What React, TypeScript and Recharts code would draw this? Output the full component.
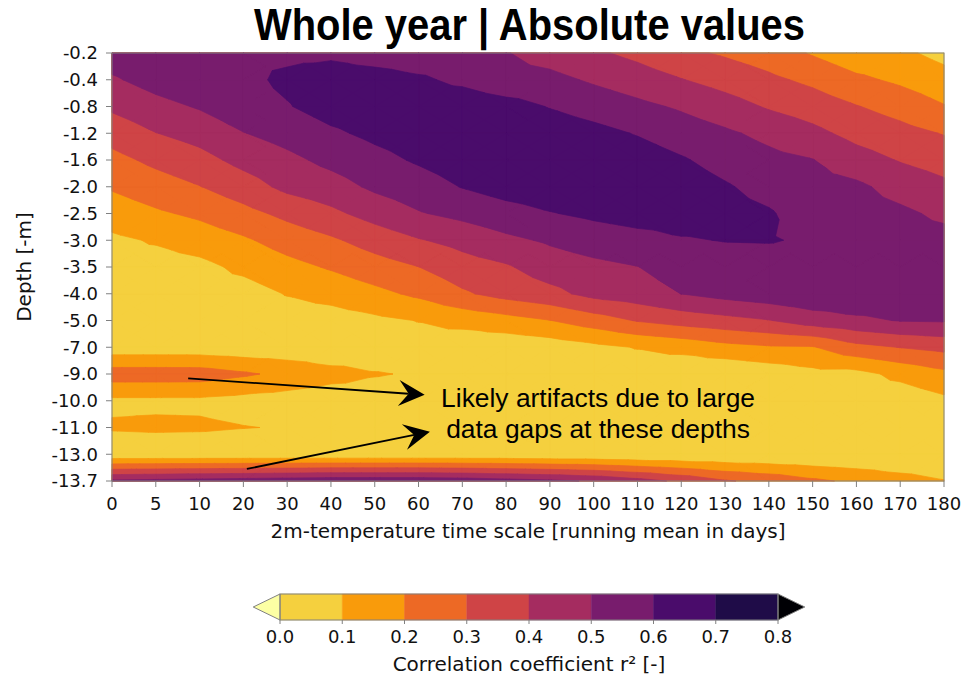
import React from 'react';
import { ComposedChart, XAxis, YAxis, ReferenceArea, Scatter } from 'recharts';

// ---------- categories / tick labels ----------
const TIME_SCALES = ['0', '5', '10', '20', '30', '40', '50', '60', '70', '80', '90', '100', '110', '120', '130', '140', '150', '160', '170', '180'];
const DEPTHS = ['-0.2', '-0.4', '-0.8', '-1.2', '-1.6', '-2.0', '-2.5', '-3.0', '-3.5', '-4.0', '-5.0', '-7.0', '-9.0', '-10.0', '-11.0', '-13.0', '-13.7'];

// ---------- r² values, one array per depth (one value per time scale) ----------
const R2_D02 = [0.555, 0.585, 0.59, 0.59, 0.578, 0.58, 0.55, 0.54, 0.55, 0.505, 0.459, 0.416, 0.374, 0.321, 0.288, 0.251, 0.191, 0.135, 0.12, 0.0705];
const R2_D04 = [0.487, 0.539, 0.58, 0.575, 0.62, 0.65, 0.645, 0.615, 0.579, 0.526, 0.527, 0.487, 0.449, 0.404, 0.362, 0.32, 0.278, 0.2205, 0.182, 0.1376];
const R2_D08 = [0.418, 0.468, 0.509, 0.564, 0.594, 0.641, 0.66, 0.65, 0.66, 0.64, 0.595, 0.558, 0.523, 0.4875, 0.442, 0.39, 0.352, 0.3045, 0.262, 0.206];
const R2_D12 = [0.34, 0.398, 0.437, 0.497, 0.537, 0.584, 0.622, 0.65, 0.68, 0.68, 0.66, 0.63, 0.594, 0.551, 0.516, 0.474, 0.426, 0.369, 0.3325, 0.295];
const R2_D16 = [0.27, 0.323, 0.367, 0.43, 0.476, 0.526, 0.57, 0.612, 0.65, 0.67, 0.68, 0.67, 0.65, 0.61, 0.564, 0.527, 0.503, 0.441, 0.394, 0.36];
const R2_D20 = [0.211, 0.254, 0.297, 0.354, 0.425, 0.459, 0.518, 0.554, 0.604, 0.641, 0.66, 0.67, 0.66, 0.65, 0.61, 0.566, 0.53, 0.52, 0.4625, 0.4215];
const R2_D25 = [0.146, 0.186, 0.219, 0.269, 0.325, 0.378, 0.438, 0.493, 0.527, 0.562, 0.595, 0.62, 0.64, 0.64, 0.63, 0.61, 0.55, 0.54, 0.52, 0.479];
const R2_D30 = [0.081, 0.109, 0.145, 0.186, 0.241, 0.285, 0.342, 0.393, 0.432, 0.479, 0.513, 0.546, 0.568, 0.593, 0.603, 0.605, 0.59, 0.56, 0.54, 0.535];
const R2_D35 = [0.07, 0.06, 0.073, 0.122, 0.169, 0.21, 0.257, 0.299, 0.357, 0.389, 0.45, 0.476, 0.498, 0.547, 0.559, 0.561, 0.57, 0.57, 0.56, 0.54];
const R2_D40 = [0.06, 0.055, 0.06, 0.058, 0.105, 0.133, 0.174, 0.219, 0.286, 0.335, 0.371, 0.43, 0.455, 0.501, 0.535, 0.56, 0.58, 0.58, 0.57, 0.54];
const R2_D50 = [0.05, 0.05, 0.05, 0.05, 0.05, 0.056, 0.079, 0.103, 0.131, 0.162, 0.198, 0.251, 0.307, 0.341, 0.368, 0.396, 0.45, 0.48, 0.505, 0.51];
const R2_D70 = [0.04, 0.04, 0.04, 0.03, 0.03, 0.033, 0.049, 0.06, 0.035, 0.03, 0.045, 0.075, 0.105, 0.13, 0.168, 0.189, 0.193, 0.27, 0.303, 0.329];
const R2_D90 = [0.252, 0.252, 0.25, 0.215, 0.175, 0.13, 0.105, 0.093, 0.06, 0.05, 0.05, 0.05, 0.04, 0.02, 0.01, 0.038, 0.071, 0.07, 0.125, 0.174];
const R2_D100 = [0.08, 0.08, 0.08, 0.065, 0.054, 0.049, 0.06, 0.06, 0.05, 0.05, 0.05, 0.05, 0.04, 0.03, 0.02, 0.03, 0.04, 0.05, 0.04, 0.079];
const R2_D110 = [0.112, 0.118, 0.115, 0.103, 0.095, 0.07, 0.07, 0.07, 0.06, 0.05, 0.05, 0.05, 0.04, 0.03, 0.02, 0.02, 0.02, 0.03, 0.03, 0.05];
const R2_D130 = [0.02, 0.02, 0.02, 0.02, 0.02, 0.02, 0.02, 0.02, 0.02, 0.02, 0.015, 0.015, 0.005, 0.005, 0.005, 0.005, 0.005, 0.005, 0.005, 0.005];
const R2_D137 = [0.52, 0.53, 0.54, 0.55, 0.56, 0.57, 0.57, 0.57, 0.56, 0.54, 0.52, 0.49, 0.44, 0.38, 0.31, 0.27, 0.22, 0.18, 0.14, 0.105];

const R2_GRID = [R2_D02, R2_D04, R2_D08, R2_D12, R2_D16, R2_D20, R2_D25, R2_D30, R2_D35, R2_D40, R2_D50, R2_D70, R2_D90, R2_D100, R2_D110, R2_D130, R2_D137];

// ---------- colour levels ----------
const LEVELS = [0, 0.1, 0.2, 0.3, 0.4, 0.5, 0.6, 0.7, 0.8];
const BAND_COLORS = ['#f5d03e', '#f99b0b', '#ed6925', '#cf4446', '#a52c60', '#781c6d', '#4a0c6b', '#1f0c48'];
const UNDER_COLOR = '#fcffa4';
const OVER_COLOR = '#000004';

// ---------- texts ----------
const TITLE = 'Whole year | Absolute values';
const X_LABEL = '2m-temperature time scale [running mean in days]';
const Y_LABEL = 'Depth [-m]';
const CB_LABEL = 'Correlation coefficient r\u00b2 [-]';
const NOTE_LINES = ['Likely artifacts due to large', 'data gaps at these depths'];
// annotation anchors in (time-scale index, depth index) coordinates
const NOTE_POS = [{ x: 11.1, y: 13.25 }, { x: 11.1, y: 14.41 }];
const ARROWS = [
  { from: [1.74, 12.16], to: [7.14, 12.78] },
  { from: [3.08, 15.55], to: [7.26, 14.16] },
];

const FONT = "'DejaVu Sans', sans-serif";
const SANS = "'Liberation Sans', Arial, sans-serif";
const GRAY = '#808080';
const EXT = 0.043;

const X_MAX = TIME_SCALES.length - 1;
const Y_MAX = DEPTHS.length - 1;
const X_TICKS = TIME_SCALES.map((_, i) => i);
const Y_TICKS = DEPTHS.map((_, i) => i);
const NODES = R2_GRID.flatMap((row, j) => row.map((v, i) => ({ x: i, y: j, r2: v })));
const CB_NODES = BAND_COLORS.map((c, k) => ({ x: (LEVELS[k] + LEVELS[k + 1]) / 2, y: 0.5, color: c }));

type P = { x: number; y: number; v: number };

function clipTri(tri: P[], L: number): P[] {
  const out: P[] = [];
  for (let k = 0; k < 3; k++) {
    const a = tri[k];
    const b = tri[(k + 1) % 3];
    const ina = a.v >= L;
    const inb = b.v >= L;
    if (ina) out.push(a);
    if (ina !== inb) {
      const t = (L - a.v) / (b.v - a.v);
      out.push({ x: a.x + t * (b.x - a.x), y: a.y + t * (b.y - a.y), v: L });
    }
  }
  return out;
}

function Arrow({ x1, y1, x2, y2 }: { x1: number; y1: number; x2: number; y2: number }) {
  const dx = x2 - x1;
  const dy = y2 - y1;
  const len = Math.hypot(dx, dy);
  const ux = dx / len;
  const uy = dy / len;
  const nx = -uy;
  const ny = ux;
  const HL = 26;
  const HW = 13;
  const NOTCH = 16;
  const bx = x2 - HL * ux;
  const by = y2 - HL * uy;
  const qx = x2 - NOTCH * ux;
  const qy = y2 - NOTCH * uy;
  const pts = [
    [x2, y2],
    [bx + HW * nx, by + HW * ny],
    [qx, qy],
    [bx - HW * nx, by - HW * ny],
  ]
    .map((p) => `${p[0].toFixed(2)},${p[1].toFixed(2)}`)
    .join(' ');
  return (
    <g>
      <line x1={x1} y1={y1} x2={qx} y2={qy} stroke="#000" strokeWidth={1.8} />
      <polygon points={pts} fill="#000" />
    </g>
  );
}

function ContourLayer(props: any) {
  const { x, y, width, height } = props;
  const px = (i: number) => x + (i / X_MAX) * width;
  const py = (j: number) => y + (j / Y_MAX) * height;

  const tris: P[][] = [];
  for (let j = 0; j < Y_MAX; j++) {
    for (let i = 0; i < X_MAX; i++) {
      const a = { x: i, y: j, v: R2_GRID[j][i] };
      const b = { x: i + 1, y: j, v: R2_GRID[j][i + 1] };
      const c = { x: i + 1, y: j + 1, v: R2_GRID[j + 1][i + 1] };
      const d = { x: i, y: j + 1, v: R2_GRID[j + 1][i] };
      const m = { x: i + 0.5, y: j + 0.5, v: (a.v + b.v + c.v + d.v) / 4 };
      tris.push([a, b, m], [b, c, m], [c, d, m], [d, a, m]);
    }
  }

  const layers = LEVELS.map((L, k) => {
    const color = k < BAND_COLORS.length ? BAND_COLORS[k] : OVER_COLOR;
    const d = tris
      .map((t) => clipTri(t, L))
      .filter((poly) => poly.length >= 3)
      .map((poly) => 'M' + poly.map((p) => `${px(p.x).toFixed(2)},${py(p.y).toFixed(2)}`).join('L') + 'Z')
      .join('');
    return d ? (
      <path key={k} d={d} fill={color} stroke={color} strokeWidth={0.7} strokeLinejoin="round" />
    ) : null;
  });

  const cx = x + width / 2;
  const cy = y + height / 2;

  return (
    <g>
      <rect x={x} y={y} width={width} height={height} fill={UNDER_COLOR} />
      {layers}
      <rect x={x} y={y} width={width} height={height} fill="none" stroke={GRAY} strokeWidth={1} />
      {ARROWS.map((a, k) => (
        <Arrow key={k} x1={px(a.from[0])} y1={py(a.from[1])} x2={px(a.to[0])} y2={py(a.to[1])} />
      ))}
      {NOTE_LINES.map((t, k) => (
        <text key={k} x={px(NOTE_POS[k].x)} y={py(NOTE_POS[k].y)} textAnchor="middle" fontFamily={SANS} fontSize={26.4} fill="#000">
          {t}
        </text>
      ))}
      <text x={cx + 1.5} y={y - 13} textAnchor="middle" fontFamily={SANS} fontWeight="bold" fontSize={44} textLength={551} lengthAdjust="spacingAndGlyphs" fill="#000">
        {TITLE}
      </text>
      <text x={cx} y={y + height + 57} textAnchor="middle" fontFamily={FONT} fontSize={20} fill="#111">
        {X_LABEL}
      </text>
      <text x={31} y={cy} transform={`rotate(-90, 31, ${cy})`} textAnchor="middle" fontFamily={FONT} fontSize={20} fill="#111">
        {Y_LABEL}
      </text>
    </g>
  );
}

function UnderTri(props: any) {
  const { x, y, width, height } = props;
  const pts = `${x + width},${y} ${x},${y + height / 2} ${x + width},${y + height}`;
  return <polygon points={pts} fill={UNDER_COLOR} stroke={GRAY} strokeWidth={1} />;
}

function OverTri(props: any) {
  const { x, y, width, height } = props;
  const pts = `${x},${y} ${x + width},${y + height / 2} ${x},${y + height}`;
  return <polygon points={pts} fill={OVER_COLOR} stroke={GRAY} strokeWidth={1} />;
}

function CbOutline(props: any) {
  const { x, y, width, height } = props;
  return (
    <g>
      <rect x={x} y={y} width={width} height={height} fill="none" stroke={GRAY} strokeWidth={1} />
      <text x={x + width / 2} y={y + height + 51} textAnchor="middle" fontFamily={FONT} fontSize={20} fill="#111">
        {CB_LABEL}
      </text>
    </g>
  );
}

const NoShape = () => <g />;

export default function App() {
  return (
    <div style={{ position: 'absolute', left: 0, top: 0, width: 969, height: 678, background: '#fff' }}>
      <div style={{ position: 'absolute', left: 0, top: 0 }}>
        <ComposedChart width={969} height={560} margin={{ top: 53, right: 25, bottom: 49, left: 42 }}>
          <XAxis
            type="number"
            dataKey="x"
            domain={[0, X_MAX]}
            ticks={X_TICKS}
            interval={0}
            tickFormatter={(v: number) => TIME_SCALES[v]}
            height={30}
            axisLine={false}
            tickLine={{ stroke: GRAY }}
            tickSize={6}
            tickMargin={10}
            tick={{ fill: '#111', fontSize: 18, fontFamily: FONT }}
            allowDataOverflow
          />
          <YAxis
            type="number"
            dataKey="y"
            domain={[0, Y_MAX]}
            reversed
            ticks={Y_TICKS}
            interval={0}
            tickFormatter={(v: number) => DEPTHS[v]}
            width={70}
            axisLine={false}
            tickLine={{ stroke: GRAY }}
            tickSize={6}
            tickMargin={8}
            tick={{ fill: '#111', fontSize: 18, fontFamily: FONT }}
            allowDataOverflow
          />
          <Scatter data={NODES} dataKey="y" shape={NoShape} isAnimationActive={false} />
          <ReferenceArea x1={0} x2={X_MAX} y1={0} y2={Y_MAX} shape={(p: any) => <ContourLayer {...p} />} />
        </ComposedChart>
      </div>
      <div style={{ position: 'absolute', left: 0, top: 580 }}>
        <ComposedChart width={969} height={98} margin={{ top: 14, right: 191, bottom: 8, left: 280 }}>
          <XAxis
            type="number"
            dataKey="x"
            domain={[LEVELS[0], LEVELS[LEVELS.length - 1]]}
            ticks={LEVELS}
            interval={0}
            tickFormatter={(v: number) => v.toFixed(1)}
            height={50}
            axisLine={false}
            tickLine={{ stroke: GRAY }}
            tickSize={4}
            tickMargin={6}
            tick={{ fill: '#111', fontSize: 18, fontFamily: FONT }}
            allowDataOverflow
          />
          <YAxis type="number" dataKey="y" domain={[0, 1]} hide allowDataOverflow />
          <Scatter data={CB_NODES} dataKey="y" shape={NoShape} isAnimationActive={false} />
          {BAND_COLORS.map((c, k) => (
            <ReferenceArea key={k} x1={LEVELS[k]} x2={LEVELS[k + 1]} y1={0} y2={1} fill={c} fillOpacity={1} stroke={c} strokeWidth={0.5} ifOverflow="visible" />
          ))}
          <ReferenceArea x1={LEVELS[0] - EXT} x2={LEVELS[0]} y1={0} y2={1} ifOverflow="visible" shape={(p: any) => <UnderTri {...p} />} />
          <ReferenceArea x1={LEVELS[8]} x2={LEVELS[8] + EXT} y1={0} y2={1} ifOverflow="visible" shape={(p: any) => <OverTri {...p} />} />
          <ReferenceArea x1={LEVELS[0]} x2={LEVELS[8]} y1={0} y2={1} ifOverflow="visible" shape={(p: any) => <CbOutline {...p} />} />
        </ComposedChart>
      </div>
    </div>
  );
}
